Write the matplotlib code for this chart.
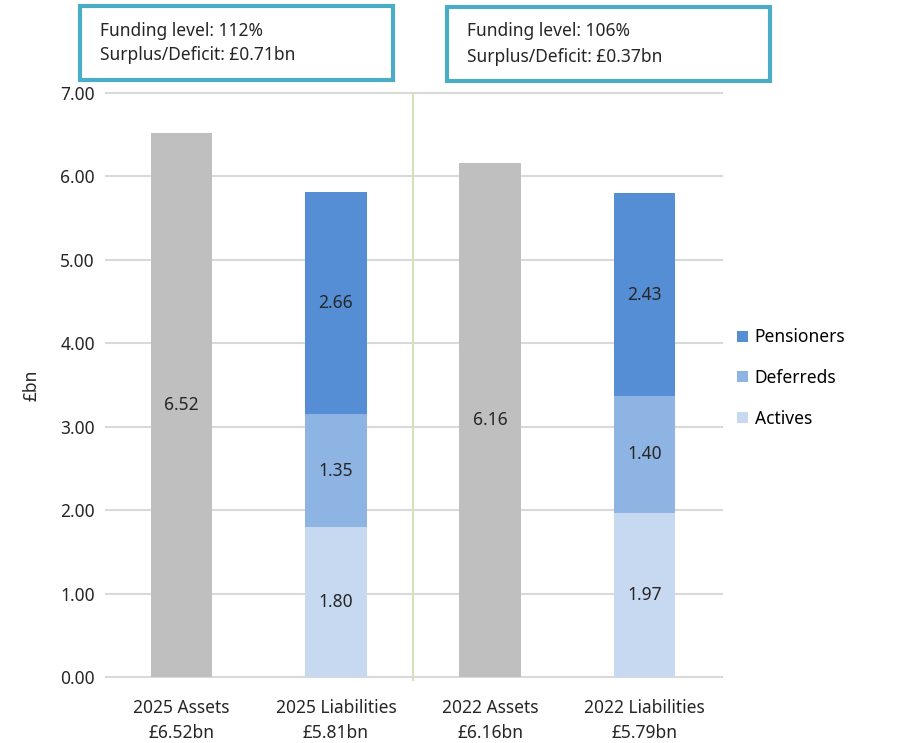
import matplotlib.pyplot as plt
from matplotlib.patches import Rectangle

plt.rcParams['font.family'] = ['Noto Sans', 'DejaVu Sans']

categories = ['2025 Assets', '2025 Liabilities', '2022 Assets', '2022 Liabilities']
assets = [6.52, 0, 6.16, 0]
actives = [0, 1.80, 0, 1.97]
deferreds = [0, 1.35, 0, 1.40]
pensioners = [0, 2.66, 0, 2.43]
totals = ['£6.52bn', '£5.81bn', '£6.16bn', '£5.79bn']
box_texts = ['Funding level: 112%\nSurplus/Deficit: £0.71bn',
             'Funding level: 106%\nSurplus/Deficit: £0.37bn']

fig = plt.figure(figsize=(9.15, 7.43), dpi=100)
ax = fig.add_axes([0.1158, 0.0888, 0.673, 0.786])

x = range(len(categories))
w = 0.4
b_ass = ax.bar(x, assets, w, color='#BFBFBF', zorder=3)
b_act = ax.bar(x, actives, w, color='#C6D9F1', label='Actives', zorder=3)
bot = [a for a in actives]
b_def = ax.bar(x, deferreds, w, bottom=bot, color='#8EB4E3', label='Deferreds', zorder=3)
bot = [a + d for a, d in zip(actives, deferreds)]
b_pen = ax.bar(x, pensioners, w, bottom=bot, color='#558ED5', label='Pensioners', zorder=3)

for bars in [b_ass, b_act, b_def, b_pen]:
    for r in bars:
        h = r.get_height()
        if h > 0:
            ax.text(r.get_x() + r.get_width() / 2, r.get_y() + h / 2, f'{h:.2f}',
                    ha='center', va='center', fontsize=12.5, color='#262626', zorder=4)

ax.set_xlim(-0.49, 3.5)
ax.set_ylim(0, 7)
ax.set_yticks([0, 1, 2, 3, 4, 5, 6, 7])
ax.set_yticklabels([f'{v:.2f}' for v in range(8)])
ax.set_xticks(list(x))
ax.set_xticklabels([c + '\n' + t for c, t in zip(categories, totals)], linespacing=1.5)
ax.grid(axis='y', color='#D9D9D9', lw=1.5, zorder=0, clip_on=False)
for s in ax.spines.values():
    s.set_visible(False)
ax.tick_params(length=0, labelsize=12.5, colors='#262626', pad=8)
ax.tick_params(axis='x', pad=16)
ax.set_ylabel('£bn', fontsize=12.5, color='#262626', labelpad=14)
ax.axvline(1.5, color='#D3E3B5', lw=1.5, zorder=2, ymin=-0.005, clip_on=False)

h, l = ax.get_legend_handles_labels()
ax.legend(h[::-1], l[::-1], loc='center left', bbox_to_anchor=(1.0, 0.512), frameon=False,
          fontsize=12.5, handlelength=0.6, handleheight=0.6, labelspacing=1.3, handletextpad=0.4)

# boxes above the chart
for (bx, by, bw, bh), txt in zip([(80, 6, 313, 74), (447, 7, 323, 74)], box_texts):
    fig.patches.append(Rectangle((bx / 915, 1 - (by + bh) / 743), bw / 915, bh / 743,
                                 transform=fig.transFigure, fill=False,
                                 edgecolor='#4BACC6', lw=3))
    fig.text((bx + 20) / 915, 1 - (by + bh / 2) / 743, txt, fontsize=12.5,
             va='center', ha='left', color='#262626', linespacing=1.5)

fig.savefig('out.png')
